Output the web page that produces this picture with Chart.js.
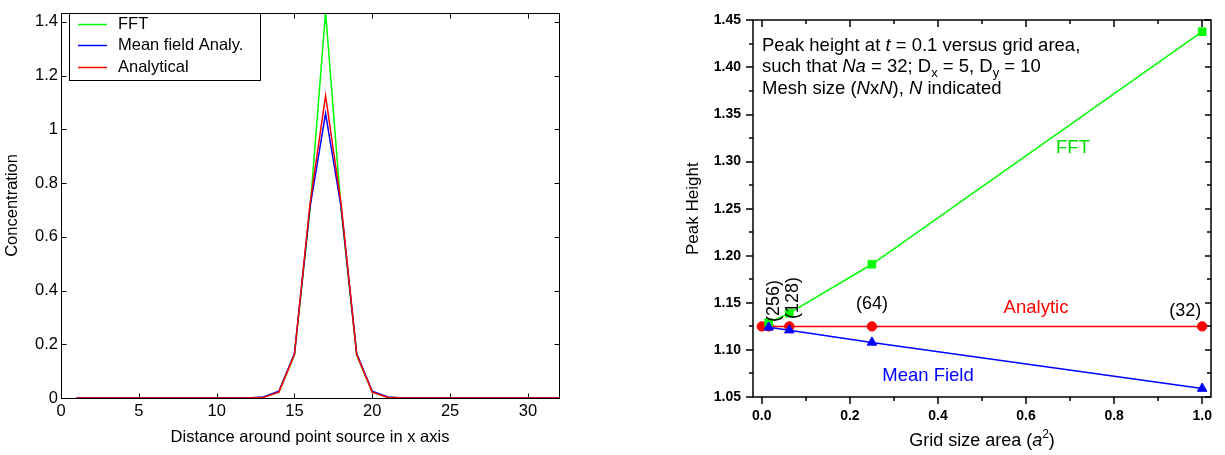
<!DOCTYPE html>
<html><head><meta charset="utf-8">
<script src="https://cdn.jsdelivr.net/npm/chart.js@4.4.1/dist/chart.umd.min.js"></script>
<style>
html,body{margin:0;padding:0;background:#fff;width:1225px;height:455px;overflow:hidden}
canvas{position:absolute;top:0}
</style></head>
<body>
<canvas id="c1" width="600" height="455" style="left:0"></canvas>
<canvas id="c2" width="625" height="455" style="left:600px"></canvas>
<script>
const FONT = '"Liberation Sans", Arial, Helvetica, sans-serif';

// ---------- Left chart data ----------
const distX = [1,2,3,4,5,6,7,8,9,10,11,12,13,14,15,16,17,18,19,20,21,22,23,24,25,26,27,28,29,30,31,32];
const concFFT        = [0,0,0,0,0,0,0,0,0,0,0,0,0.003,0.022,0.160,0.700,1.437,0.700,0.160,0.022,0.003,0,0,0,0,0,0,0,0,0,0,0];
const concMeanField  = [0,0,0,0,0,0,0,0,0,0,0,0,0.004,0.025,0.165,0.710,1.058,0.710,0.165,0.025,0.004,0,0,0,0,0,0,0,0,0,0,0];
const concAnalytical = [0,0,0,0,0,0,0,0,0,0,0,0,0.002,0.022,0.162,0.722,1.125,0.722,0.162,0.022,0.002,0,0,0,0,0,0,0,0,0,0,0];
const leftXTicks = [0,5,10,15,20,25,30];
const leftYTicks = [0,0.2,0.4,0.6,0.8,1,1.2,1.4];
const leftLegend = ['FFT','Mean field Analy.','Analytical'];

// ---------- Right chart data ----------
const gridArea      = [0.015625, 0.0625, 0.25, 1.0];
const analyticArea  = [0, 0.015625, 0.0625, 0.25, 1.0];
const peakFFT       = [1.129, 1.139, 1.191, 1.438];
const peakMeanField = [1.124, 1.121, 1.108, 1.059];
const peakAnalytic  = [1.125, 1.125, 1.125, 1.125, 1.125];
const rightXTicks = [0,0.2,0.4,0.6,0.8,1.0];
const rightXMinor = [0.1,0.3,0.5,0.7,0.9];
const rightYTicks = [1.05,1.10,1.15,1.20,1.25,1.30,1.35,1.40,1.45];
const rightYMinor = [1.075,1.125,1.175,1.225,1.275,1.325,1.375,1.425];
const meshLabels = ['(256)','(128)','(64)','(32)'];

const GREEN = '#00ff00', BLUE = '#0000ff', RED = '#ff0000';

function drawRuns(ctx, x, y, runs, align) {
  let total = 0;
  runs.forEach(r => { ctx.font = (r.italic?'italic ':'') + r.size + 'px ' + FONT; r.w = ctx.measureText(r.t).width; total += r.w; });
  let cx = x;
  if (align === 'center') cx = x - total/2;
  ctx.textAlign = 'left';
  runs.forEach(r => {
    ctx.font = (r.italic?'italic ':'') + r.size + 'px ' + FONT;
    ctx.fillText(r.t, cx, y + (r.dy||0));
    cx += r.w;
  });
}

// ---------- Left chart ----------
const LF = 16.5;
const leftDecor = {
  id: 'leftDecor',
  afterDraw(chart) {
    const {ctx, chartArea: a, scales: {x, y}} = chart;
    ctx.save();
    ctx.strokeStyle = '#000'; ctx.lineWidth = 1;
    const L = Math.round(a.left) + 0.5, R = Math.round(a.right) + 0.5;
    const T = Math.round(a.top) + 0.5, B = Math.round(a.bottom) + 0.5;
    ctx.strokeRect(L, T, R - L, B - T);
    ctx.beginPath();
    leftXTicks.forEach(v => {
      const px = Math.round(x.getPixelForValue(v)) + 0.5;
      ctx.moveTo(px, B); ctx.lineTo(px, B - 5);
      ctx.moveTo(px, T); ctx.lineTo(px, T + 5);
    });
    leftYTicks.forEach(v => {
      const py = Math.round(y.getPixelForValue(v)) + 0.5;
      ctx.moveTo(L, py); ctx.lineTo(L + 5, py);
      ctx.moveTo(R, py); ctx.lineTo(R - 5, py);
    });
    ctx.stroke();
    // legend box
    const bx = 69.5, by = 13.5, bw = 191, bh = 67;
    ctx.fillStyle = '#fff';
    ctx.fillRect(bx, by, bw, bh);
    ctx.strokeRect(bx, by, bw, bh);
    const cols = [GREEN, BLUE, RED];
    const rows = [24, 45, 67];
    ctx.font = LF + 'px ' + FONT;
    ctx.textBaseline = 'middle';
    leftLegend.forEach((t, i) => {
      ctx.strokeStyle = cols[i]; ctx.lineWidth = 1.5;
      ctx.beginPath(); ctx.moveTo(78, rows[i] + 0.5); ctx.lineTo(107, rows[i] + 0.5); ctx.stroke();
      ctx.fillStyle = '#000';
      ctx.textAlign = 'left';
      ctx.fillText(t, 118, rows[i]);
    });
    // axis titles
    ctx.fillStyle = '#000';
    ctx.textAlign = 'center';
    ctx.fillText('Distance around point source in x axis', (a.left + a.right) / 2, 437);
    ctx.save();
    ctx.translate(12, (a.top + a.bottom) / 2);
    ctx.rotate(-Math.PI / 2);
    ctx.fillText('Concentration', 0, 0);
    ctx.restore();
    ctx.restore();
  }
};

new Chart(document.getElementById('c1'), {
  type: 'line',
  data: {
    datasets: [
      { label: 'Analytical', data: distX.map((v, i) => ({x: v, y: concAnalytical[i]})), borderColor: RED, borderWidth: 1.5, pointRadius: 0, tension: 0 },
      { label: 'Mean field Analy.', data: distX.map((v, i) => ({x: v, y: concMeanField[i]})), borderColor: BLUE, borderWidth: 1.5, pointRadius: 0, tension: 0 },
      { label: 'FFT', data: distX.map((v, i) => ({x: v, y: concFFT[i]})), borderColor: GREEN, borderWidth: 1.5, pointRadius: 0, tension: 0 }
    ]
  },
  options: {
    responsive: false, animation: false, devicePixelRatio: 1,
    layout: { padding: { left: 0, right: 41, top: 4, bottom: 0 } },
    plugins: { legend: { display: false }, tooltip: { enabled: false } },
    scales: {
      x: {
        type: 'linear', min: 0, max: 32,
        grid: { display: false, drawTicks: false }, border: { display: false },
        afterBuildTicks: s => { s.ticks = leftXTicks.map(v => ({value: v})); },
        afterFit: s => { s.height = 57; },
        ticks: { font: { family: FONT, size: LF }, color: '#000', padding: 4, maxRotation: 0, autoSkip: false, callback: v => String(v) }
      },
      y: {
        type: 'linear', min: 0, max: 1.433,
        grid: { display: false, drawTicks: false }, border: { display: false },
        afterBuildTicks: s => { s.ticks = leftYTicks.map(v => ({value: v})); },
        afterFit: s => { s.width = 61; },
        ticks: { font: { family: FONT, size: LF }, color: '#000', padding: 3, autoSkip: false, callback: v => String(v) }
      }
    }
  },
  plugins: [leftDecor]
});

// ---------- Right chart ----------
const RF = 18.5;
const rightDecor = {
  id: 'rightDecor',
  afterDraw(chart) {
    const {ctx, chartArea: a, scales: {x, y}} = chart;
    ctx.save();
    ctx.strokeStyle = '#000'; ctx.lineWidth = 1.5;
    const L = Math.round(a.left), R = Math.round(a.right);
    const T = Math.round(a.top), B = Math.round(a.bottom);
    ctx.strokeRect(L, T, R - L, B - T);
    ctx.beginPath();
    rightXTicks.forEach(v => {
      const px = Math.round(x.getPixelForValue(v));
      ctx.moveTo(px, B); ctx.lineTo(px, B + 7);
      ctx.moveTo(px, T); ctx.lineTo(px, T + 7);
    });
    rightXMinor.forEach(v => {
      const px = Math.round(x.getPixelForValue(v));
      ctx.moveTo(px, B); ctx.lineTo(px, B + 4);
      ctx.moveTo(px, T); ctx.lineTo(px, T + 4);
    });
    rightYTicks.forEach(v => {
      const py = Math.round(y.getPixelForValue(v));
      ctx.moveTo(L, py); ctx.lineTo(L - 7, py);
      ctx.moveTo(R, py); ctx.lineTo(R - 6, py);
    });
    rightYMinor.forEach(v => {
      const py = Math.round(y.getPixelForValue(v));
      ctx.moveTo(L, py); ctx.lineTo(L - 4, py);
      ctx.moveTo(R, py); ctx.lineTo(R - 4, py);
    });
    ctx.stroke();

    ctx.fillStyle = '#000';
    ctx.textBaseline = 'alphabetic';
    const S = RF, SS = 13;
    const tx = a.left + 9;
    drawRuns(ctx, tx, 51, [
      {t: 'Peak height at ', size: S}, {t: 't', italic: true, size: S}, {t: ' = 0.1 versus grid area,', size: S}
    ]);
    drawRuns(ctx, tx, 72, [
      {t: 'such that ', size: S}, {t: 'Na', italic: true, size: S}, {t: ' = 32; D', size: S},
      {t: 'x', size: SS, dy: 5}, {t: ' = 5, D', size: S}, {t: 'y', size: SS, dy: 5}, {t: ' = 10', size: S}
    ]);
    drawRuns(ctx, tx, 94, [
      {t: 'Mesh size (', size: S}, {t: 'N', italic: true, size: S}, {t: 'x', size: S}, {t: 'N', italic: true, size: S},
      {t: '), ', size: S}, {t: 'N', italic: true, size: S}, {t: ' indicated', size: S}
    ]);

    // series labels
    ctx.font = S + 'px ' + FONT;
    ctx.textAlign = 'center';
    ctx.textBaseline = 'middle';
    ctx.fillStyle = '#00e000';
    ctx.fillText('FFT', 473, 148);
    ctx.fillStyle = RED;
    ctx.fillText('Analytic', 436, 308);
    ctx.fillStyle = BLUE;
    ctx.fillText('Mean Field', 328, 376);

    // mesh labels
    ctx.fillStyle = '#000';
    ctx.font = '18px ' + FONT;
    const yLine = y.getPixelForValue(peakAnalytic[0]);
    ctx.fillText(meshLabels[2], x.getPixelForValue(gridArea[2]), yLine - 22);
    ctx.fillText(meshLabels[3], x.getPixelForValue(gridArea[3]) - 17, yLine - 15);
    [[0, 5, 301], [1, 4, 298]].forEach(([i, dx, cy]) => {
      ctx.save();
      ctx.translate(x.getPixelForValue(gridArea[i]) + dx, cy);
      ctx.rotate(-Math.PI / 2);
      ctx.fillText(meshLabels[i], 0, 0);
      ctx.restore();
    });

    // axis titles
    ctx.textBaseline = 'alphabetic';
    drawRuns(ctx, (a.left + a.right) / 2, 446, [
      {t: 'Grid size area (', size: 18}, {t: 'a', italic: true, size: 18}, {t: '2', size: 12, dy: -8}, {t: ')', size: 18}
    ], 'center');
    ctx.save();
    ctx.textAlign = 'center';
    ctx.textBaseline = 'middle';
    ctx.font = '17px ' + FONT;
    ctx.translate(93, (a.top + a.bottom) / 2);
    ctx.rotate(-Math.PI / 2);
    ctx.fillText('Peak Height', 0, 0);
    ctx.restore();
    ctx.restore();
  }
};

new Chart(document.getElementById('c2'), {
  type: 'line',
  data: {
    datasets: [
      { label: 'Mean Field', data: gridArea.map((v, i) => ({x: v, y: peakMeanField[i]})), borderColor: BLUE, backgroundColor: BLUE, borderWidth: 1.5, pointStyle: 'triangle', pointRadius: 5.5, pointBorderWidth: 1, tension: 0 },
      { label: 'FFT', data: gridArea.map((v, i) => ({x: v, y: peakFFT[i]})), borderColor: GREEN, backgroundColor: GREEN, borderWidth: 1.5, pointStyle: 'rect', pointRadius: 5.4, pointBorderWidth: 1, tension: 0 },
      { label: 'Analytic', data: analyticArea.map((v, i) => ({x: v, y: peakAnalytic[i]})), borderColor: RED, backgroundColor: RED, borderWidth: 1.5, pointStyle: 'circle', pointRadius: 4.7, pointBorderWidth: 1, tension: 0 }
    ]
  },
  options: {
    responsive: false, animation: false, devicePixelRatio: 1,
    layout: { padding: { left: 0, right: 14, top: 12, bottom: 0 } },
    plugins: { legend: { display: false }, tooltip: { enabled: false } },
    scales: {
      x: {
        type: 'linear', min: -0.02, max: 1.02,
        grid: { display: false, drawTicks: false }, border: { display: false },
        afterBuildTicks: s => { s.ticks = rightXTicks.map(v => ({value: v})); },
        afterFit: s => { s.height = 58; },
        ticks: { font: { family: FONT, size: 14, weight: 'bold' }, color: '#000', padding: 11, maxRotation: 0, autoSkip: false, callback: v => Number(v).toFixed(1) }
      },
      y: {
        type: 'linear', min: 1.05, max: 1.45,
        grid: { display: false, drawTicks: false }, border: { display: false },
        afterBuildTicks: s => { s.ticks = rightYTicks.map(v => ({value: v})); },
        afterFit: s => { s.width = 153; },
        ticks: { font: { family: FONT, size: 14, weight: 'bold' }, color: '#000', padding: 12, autoSkip: false, callback: v => Number(v).toFixed(2) }
      }
    }
  },
  plugins: [rightDecor]
});
</script>
</body></html>
